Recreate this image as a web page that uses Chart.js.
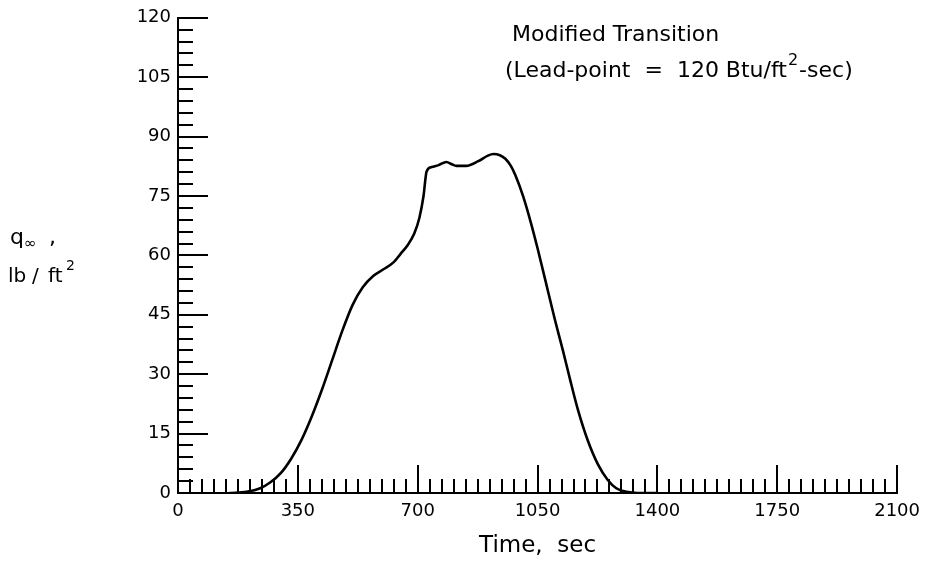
<!DOCTYPE html>
<html><head><meta charset="utf-8">
<script src="https://cdn.jsdelivr.net/npm/chart.js@4/dist/chart.umd.min.js"></script>
<style>html,body{margin:0;padding:0;background:#fff;}#wrap{width:928px;height:563px;}</style>
</head><body><div id="wrap"><canvas id="c" width="928" height="563"></canvas></div>
<script>
// ---- data ----
const timeSec = [150, 200, 240, 270, 300, 330, 360, 390, 420, 450, 480, 510, 540, 570, 600, 630, 650, 670, 690, 705, 717, 726, 741, 761, 784, 800, 813, 842, 877, 905, 921, 940, 956, 972, 985, 1008, 1031, 1050, 1072, 1100, 1124, 1144, 1168, 1197, 1226, 1255, 1280, 1310, 1342, 1400];
const qInf    = [0, 0.3, 1.2, 2.7, 5.0, 8.6, 13.3, 19.2, 26.0, 33.5, 41.0, 47.5, 52.0, 54.8, 56.5, 58.3, 60.4, 62.5, 65.5, 69.5, 75.0, 81.2, 82.3, 82.8, 83.6, 83.0, 82.6, 82.6, 83.8, 85.2, 85.6, 85.3, 84.4, 82.6, 80.3, 74.9, 68.1, 61.8, 54.0, 44.0, 36.0, 29.0, 21.0, 13.2, 7.3, 3.3, 1.2, 0.3, 0, 0];
const xTickValues = [0, 350, 700, 1050, 1400, 1750, 2100];
const yTickValues = [0, 15, 30, 45, 60, 75, 90, 105, 120];
const xMinorStep = 35;
const yMinorStep = 3;
const titleLine1 = 'Modified Transition';
const titleLine2a = '(Lead-point  =  120 Btu/ft';
const titleLine2b = '-sec)';
const xTitle = 'Time,  sec';

const points = timeSec.map((t, i) => ({x: t, y: qInf[i]}));
const FONT = '"DejaVu Sans", "Liberation Sans", sans-serif';

const innerTicks = {
  id: 'innerTicks',
  afterDraw(chart) {
    const {ctx, chartArea, scales: {x, y}} = chart;
    ctx.save();
    ctx.strokeStyle = '#000';
    ctx.lineWidth = 2;
    const yMajor = yTickValues[1] - yTickValues[0];
    for (let v = y.min; v <= y.max + 1e-9; v += yMinorStep) {
      const py = Math.round(y.getPixelForValue(v));
      const len = (Math.abs(v % yMajor) < 1e-6) ? 30 : 15;
      ctx.beginPath(); ctx.moveTo(chartArea.left, py); ctx.lineTo(chartArea.left + len, py); ctx.stroke();
    }
    const xMajor = xTickValues[1] - xTickValues[0];
    for (let v = x.min; v <= x.max + 1e-9; v += xMinorStep) {
      const px = Math.round(x.getPixelForValue(v));
      const len = (Math.abs(v % xMajor) < 1e-6) ? 28 : 14;
      ctx.beginPath(); ctx.moveTo(px, chartArea.bottom); ctx.lineTo(px, chartArea.bottom - len); ctx.stroke();
    }
    // annotation
    ctx.fillStyle = '#000';
    ctx.textBaseline = 'alphabetic';
    ctx.textAlign = 'left';
    ctx.font = '22px ' + FONT;
    ctx.fillText(titleLine1, 512, 41);
    ctx.fillText(titleLine2a, 505, 77);
    const w = ctx.measureText(titleLine2a).width;
    ctx.font = '16px ' + FONT;
    ctx.fillText('2', 505 + w + 1, 65);
    const w2 = ctx.measureText('2').width;
    ctx.font = '22px ' + FONT;
    ctx.fillText(titleLine2b, 505 + w + w2 + 2, 77);
    // y axis label
    ctx.font = '22px ' + FONT;
    ctx.fillText('q', 10, 244);
    ctx.font = '15px ' + FONT;
    ctx.fillText('\u221E', 24, 248);
    ctx.font = '22px ' + FONT;
    ctx.fillText(',', 49, 244);
    ctx.font = '20px ' + FONT;
    ctx.fillText('lb', 8, 282);
    ctx.fillText('/', 32, 282);
    ctx.fillText('ft', 48, 282);
    ctx.font = '14px ' + FONT;
    ctx.fillText('2', 66, 270);
    ctx.restore();
  }
};

new Chart(document.getElementById('c'), {
  type: 'line',
  data: {
    datasets: [{
      data: points,
      borderColor: '#000',
      borderWidth: 2.6,
      pointRadius: 0,
      fill: false,
      cubicInterpolationMode: 'monotone'
    }]
  },
  options: {
    responsive: false,
    animation: false,
    devicePixelRatio: 1,
    layout: {padding: {top: 12, right: 27, left: 0, bottom: 0}},
    plugins: {legend: {display: false}, tooltip: {enabled: false}},
    scales: {
      x: {
        type: 'linear', min: 0, max: 2100,
        afterBuildTicks: s => { s.ticks = xTickValues.map(v => ({value: v})); },
        afterFit: s => { s.height = 70; },
        ticks: {color: '#000', font: {family: FONT, size: 18}, padding: 8, maxRotation: 0, autoSkip: false, callback: v => String(v)},
        grid: {drawOnChartArea: false, drawTicks: false},
        border: {display: true, color: '#000', width: 2},
        title: {display: true, text: xTitle, color: '#000', font: {family: FONT, size: 23}, padding: {top: 0, bottom: 3}}
      },
      y: {
        type: 'linear', min: 0, max: 120,
        afterBuildTicks: s => { s.ticks = yTickValues.map(v => ({value: v})); },
        afterFit: s => { s.width = 178; },
        ticks: {color: '#000', font: {family: FONT, size: 18}, padding: 7, callback: v => String(v)},
        grid: {drawOnChartArea: false, drawTicks: false},
        border: {display: true, color: '#000', width: 2}
      }
    }
  },
  plugins: [innerTicks]
});
</script>
</body></html>
